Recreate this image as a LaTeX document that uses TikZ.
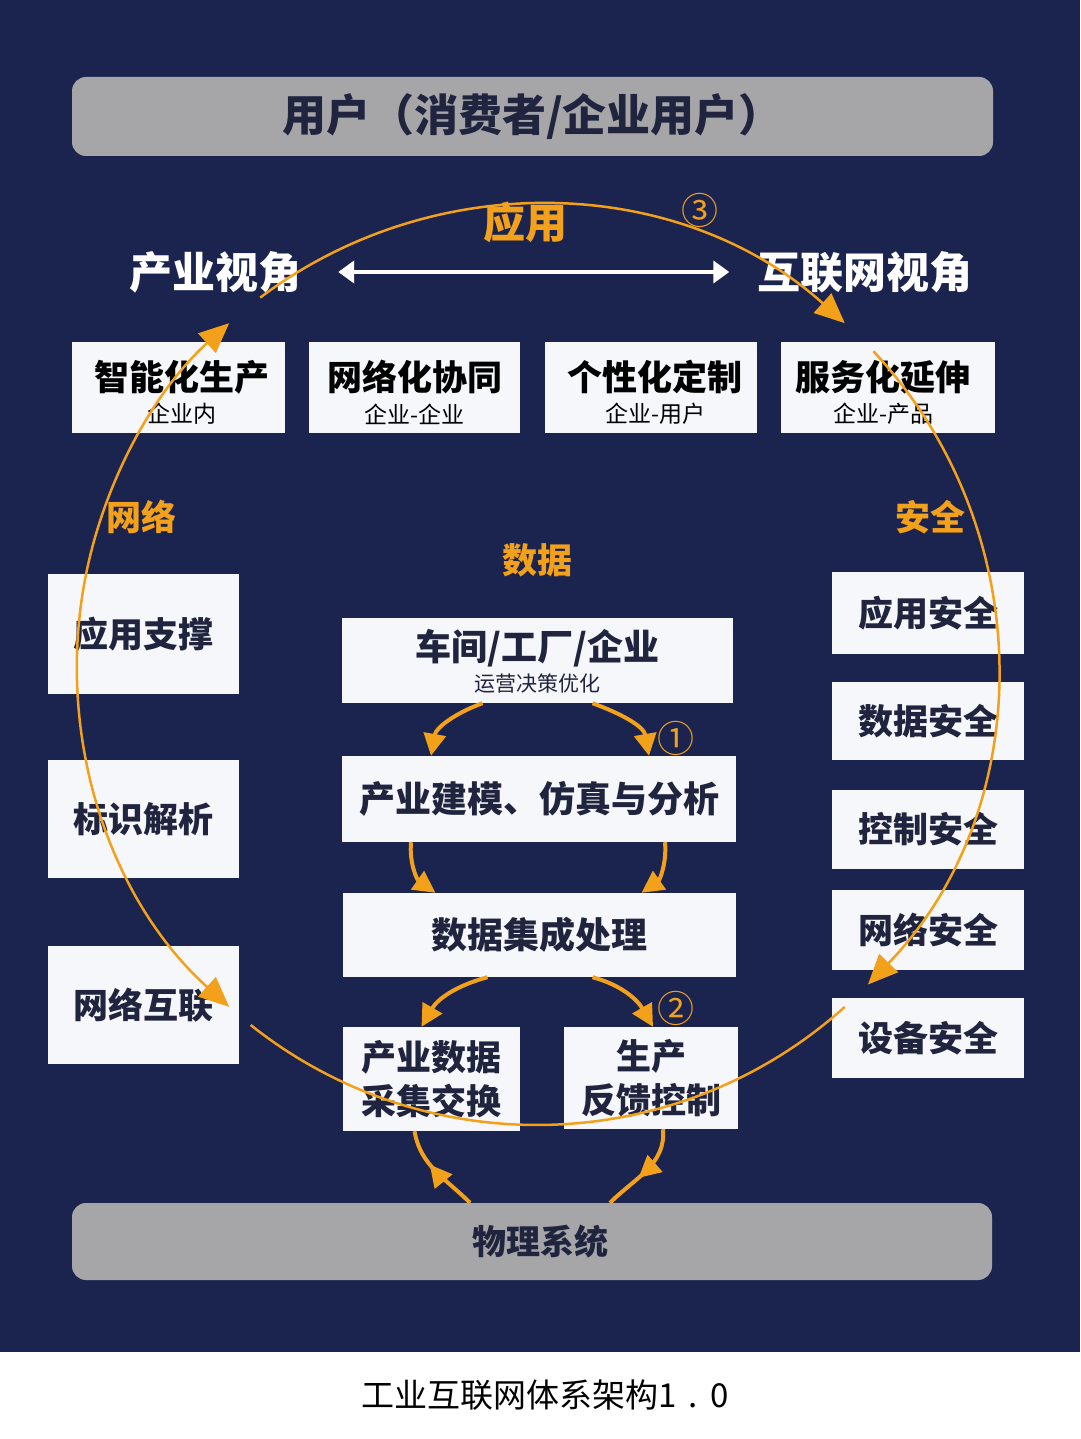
\documentclass[tikz,border=0pt]{standalone}
\usepackage{fontspec}
\setmainfont{Noto Sans CJK SC}
\usetikzlibrary{arrows.meta,calc,decorations.markings}

\definecolor{navy}{RGB}{27,36,78}
\definecolor{amber}{RGB}{243,160,26}
\definecolor{paper}{RGB}{246,247,250}
\definecolor{slate}{RGB}{166,166,168}
\definecolor{ink}{RGB}{32,36,62}

\newcommand{\fsz}[2]{\fontsize{#1}{#2}\selectfont}

\begin{document}
\begin{tikzpicture}[x=1pt,y=-1pt,
    card/.style={fill=paper, inner sep=0pt, text=ink, align=center, font=\bfseries\fsz{35}{44}},
    slab/.style={fill=slate, rounded corners=14pt, inner sep=0pt, text=ink},
    topic/.style={inner sep=0pt, text=amber, font=\bfseries\fsz{35}{40}},
    view/.style={inner sep=0pt, text=white, font=\bfseries\fsz{43}{48}},
    headline/.style={inner sep=0pt, text=black, font=\bfseries\fsz{35}{40}},
    subline/.style={inner sep=0pt, text=black, font=\fsz{23}{28}},
    bigring/.style={draw=amber, line width=2.5pt},
    bigtip/.style={-{Triangle[length=30pt,width=26pt]}},
    cyc/.style={draw=amber, line width=4pt, -{Triangle[length=22pt,width=22pt]}},
    cycmid/.style={draw=amber, line width=4pt, postaction={decorate},
        decoration={markings, mark=at position 0.6 with {\arrow{Triangle[length=22pt,width=22pt]}}}}
  ]
    \useasboundingbox (0,0) rectangle (1080,1439);
    \fill[navy] (0,0) rectangle (1080,1352);
    \fill[white] (0,1352) rectangle (1080,1439);

    % top and bottom bars
    \node[slab, minimum width=921pt, minimum height=79pt, font=\bfseries\fsz{44}{48}] (user) at (532.5,116.5) {用户（消费者/企业用户）};
    \node[slab, minimum width=920pt, minimum height=77pt] (phys) at (532,1241.5) {};
    \node[inner sep=0pt, text=ink, font=\bfseries\fsz{34}{40}] (physT) at (540,1242) {物理系统};

    % views
    \node[view] (industry) at (215,272) {产业视角};
    \node[view] (internet) at (865,272) {互联网视角};
    \draw[white, line width=4pt, {Triangle[length=16pt,width=22pt]}-{Triangle[length=16pt,width=22pt]}]
        ([xshift=37pt]industry.east) -- ([xshift=-28pt]internet.west);
    \node[topic, font=\bfseries\fsz{42}{48}] (apply) at (525,222) {应用};
    \node[topic, font=\fsz{37}{40}] (step3) at (700,210) {③};

    % application row
    \node[card, minimum width=213pt, minimum height=91pt] (smart) at (178.5,387.5) {};
    \node[headline] (smartT) at (182,377) {智能化生产};
    \node[subline] (smartS) at (182,414) {企业内};
    \node[card, minimum width=211pt, minimum height=91pt] (collab) at (414.5,387.5) {};
    \node[headline] (collabT) at (414.5,377) {网络化协同};
    \node[subline] (collabS) at (414.5,414) {企业-企业};
    \node[card, minimum width=212pt, minimum height=91pt] (custom) at (651,387.5) {};
    \node[headline] (customT) at (655,377) {个性化定制};
    \node[subline] (customS) at (655,414) {企业-用户};
    \node[card, minimum width=214pt, minimum height=91pt] (service) at (888,387.5) {};
    \node[headline] (serviceT) at (883,377) {服务化延伸};
    \node[subline] (serviceS) at (883,414) {企业-产品};

    % network side
    \node[topic] (netlbl) at (141,517) {网络};
    \node[card, minimum width=191pt, minimum height=120pt] (support) at (143.5,634) {应用支撑};
    \node[card, minimum width=191pt, minimum height=118pt] (ident) at (143.5,819) {标识解析};
    \node[card, minimum width=191pt, minimum height=118pt] (interconn) at (143.5,1005) {网络互联};

    % security side
    \node[topic] (seclbl) at (930,517) {安全};
    \node[card, minimum width=192pt, minimum height=82pt] (appsec) at (928,613) {应用安全};
    \node[card, minimum width=192pt, minimum height=78pt] (datasec) at (928,721) {数据安全};
    \node[card, minimum width=192pt, minimum height=79pt] (ctrlsec) at (928,829.5) {控制安全};
    \node[card, minimum width=192pt, minimum height=80pt] (netsec) at (928,930) {网络安全};
    \node[card, minimum width=192pt, minimum height=80pt] (devsec) at (928,1038) {设备安全};

    % data column
    \node[topic] (datalbl) at (537,560) {数据};
    \node[card, minimum width=391pt, minimum height=85pt] (plant) at (537.5,660.5) {};
    \node[card, fill=none, font=\bfseries\fsz{36}{40}] (plantT) at (537.5,648) {车间/工厂/企业};
    \node[card, fill=none, font=\fsz{21}{24}] (plantS) at (537.5,684) {运营决策优化};
    \node[card, minimum width=394pt, minimum height=86pt, font=\bfseries\fsz{36}{40}] (model) at (539,799) {产业建模、仿真与分析};
    \node[card, minimum width=393pt, minimum height=84pt, font=\bfseries\fsz{36}{40}] (integ) at (539.5,935) {数据集成处理};
    \node[card, minimum width=177pt, minimum height=104pt] (collect) at (431.5,1079) {产业数据\\采集交换};
    \node[card, minimum width=174pt, minimum height=102pt] (control) at (651,1078) {生产\\反馈控制};
    \node[topic, font=\fsz{37}{40}] (step1) at (676,738) {①};
    \node[topic, font=\fsz{37}{40}] (step2) at (676,1008) {②};

    % data loops
    \draw[cyc] ([xshift=-55pt]plant.south) to[out=200,in=80] ([xshift=-108pt]model.north);
    \draw[cyc] ([xshift=55pt]plant.south) to[out=-20,in=100] ([xshift=110pt]model.north);
    \draw[cyc] ([xshift=-128pt]model.south) to[out=-95,in=145] ([xshift=-104pt]integ.north);
    \draw[cyc] ([xshift=126pt]model.south) to[out=-85,in=35] ([xshift=102pt]integ.north);
    \draw[cyc] ([xshift=-52pt]integ.south) to[out=195,in=60] ([xshift=-10pt]collect.north);
    \draw[cyc] ([xshift=53pt]integ.south) to[out=-15,in=120] ([xshift=2pt]control.north);
    \draw[cycmid] ([xshift=-62pt]phys.north) to[out=135,in=-80] ([xshift=-17pt]collect.south);
    \draw[cycmid] ([xshift=12pt]control.south) to[out=-85,in=45] ([xshift=78pt]phys.north);

    % outer ring
    \coordinate (hub) at (537,665);
    \draw[bigring, bigtip] ($(hub)+(127:460pt)$) arc[start angle=127, end angle=48, radius=460pt];
    \draw[bigring, bigtip] ($(hub)+(43:460pt)$) arc[start angle=43, end angle=-44, radius=460pt];
    \draw[bigring] ($(hub)+(-48:460pt)$) arc[start angle=-48, end angle=-128.5, radius=460pt];
    \draw[bigring, {Triangle[length=30pt,width=26pt]}-{Triangle[length=30pt,width=26pt]}]
        ($(hub)+(228:460pt)$) arc[start angle=228, end angle=132, radius=460pt];

    % caption
    \node[inner sep=0pt, text=black, font=\fsz{33}{36}] (title) at (545,1395) {工业互联网体系架构1\kern12pt.\kern12pt0};
\end{tikzpicture}
\end{document}
